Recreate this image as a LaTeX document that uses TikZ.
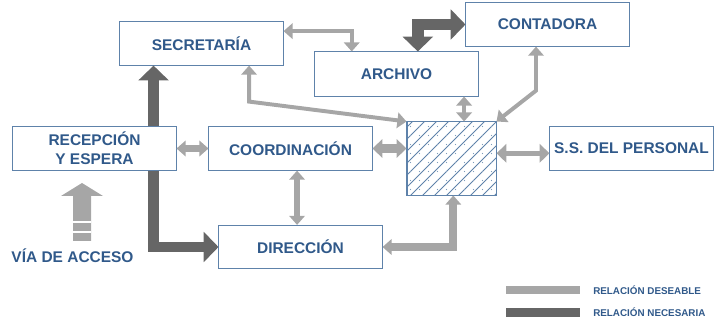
\documentclass[tikz,border=0pt]{standalone}
\usepackage{fontspec}
\setmainfont{Liberation Sans}
\usetikzlibrary{positioning,arrows.meta,calc}
\definecolor{planText}{HTML}{30598A}
\definecolor{planLine}{HTML}{5E82AA}
\definecolor{relLight}{HTML}{A6A6A6}
\definecolor{relDark}{HTML}{666666}

\tikzset{
  room/.style={draw=planLine, line width=0.7pt, fill=white, inner sep=0pt,
    minimum width=4.075cm, minimum height=1.08cm, align=center,
    font=\bfseries\fontsize{11}{13.5}\selectfont, text=planText},
  deseable/.style={draw=relLight, line width=2.8pt,
    >={Triangle[length=6.5pt,width=11pt]}, <->},
  necesaria/.style={draw=relDark, line width=7.5pt,
    >={Triangle[length=10.5pt,width=21pt]}, ->},
  leyenda/.style={anchor=west, inner sep=0pt, text=planText,
    font=\bfseries\fontsize{7}{8}\selectfont}
}

\begin{document}
\begin{tikzpicture}[x=0.025cm, y=-0.025cm]
  \useasboundingbox (0,0) rectangle (722,320);

  % recintos
  \node[room] (secre) at (201.5,43.5) {SECRETARÍA};
  \node[room, minimum height=1.1cm] (archivo) at (396.5,74) {ARCHIVO};
  \node[room] (conta) at (547.5,24.5) {CONTADORA};
  \node[room] (recep) at (94.5,148.5) {RECEPCIÓN\\Y ESPERA};
  \node[room] (coord) at (290.5,148.5) {COORDINACIÓN};
  \node[room] (ssper) at (631.5,148.5) {S.S. DEL PERSONAL};
  \node[room] (direc) at (300.5,247) {DIRECCIÓN};
  \node[draw=planLine, line width=0.7pt, inner sep=0pt,
    minimum width=2.225cm, minimum height=1.825cm] (area) at (451.5,158.5) {};

  % rayado del area
  \begin{scope}
    \clip (area.south west) rectangle (area.north east);
    \foreach \k in {0,...,14}
      \draw[planLine, line width=0.6pt] ($(area.south west)+(\k*12-80,0)$) -- ++(100,-100);
    \foreach \i in {0,...,9}
      \foreach \j in {0,...,7}
        \fill[planLine!80] ($(area.north west)+(4+\i*9,5+\j*9)$) circle (0.4pt);
  \end{scope}
  \draw[planLine, line width=0.7pt] (area.south west) rectangle (area.north east);

  % relaciones deseables
  \coordinate (sa) at ($(secre.north east)!0.22!(secre.south east)$);
  \coordinate (at) at ($(archivo.north west)!0.227!(archivo.north east)$);
  \draw[deseable] (sa) -| (at);
  \coordinate (sb) at ($(secre.south west)!0.79!(secre.south east)$);
  \draw[deseable] (area.north west) -- ($(sb)+(0,36)$) -- (sb);
  \coordinate (an) at ($(area.north west)!0.64!(area.north east)$);
  \draw[deseable] (archivo.south -| an) -- (an);
  \coordinate (cb) at ($(conta.south west)!0.43!(conta.south east)$);
  \draw[deseable] (cb) -- ($(cb)+(0,44)$) -- (area.north east);
  \draw[deseable, line width=4.5pt] (recep.east) -- (coord.west);
  \draw[deseable, line width=6pt, >={Triangle[length=7pt,width=13pt]}]
    (coord.east) -- (coord.east -| area.west);
  \draw[deseable, line width=3.8pt, >={Triangle[length=7pt,width=13pt]}]
    ([yshift=-0.12cm]area.east |- ssper.west) -- ([yshift=-0.12cm]ssper.west);
  \coordinate (ck) at ($(coord.south west)!0.54!(coord.south east)$);
  \draw[deseable, line width=4pt] (ck) -- (ck |- direc.north);
  \coordinate (ab) at ($(area.south west)!0.52!(area.south east)$);
  \draw[deseable, line width=5.5pt] (direc.east) -| (ab);

  % relaciones necesarias
  \coordinate (ak) at ($(archivo.north west)!0.63!(archivo.north east)$);
  \draw[necesaria, <->, line width=8.5pt] (conta.west) -| (ak);
  \coordinate (rk) at ($(recep.north west)!0.86!(recep.north east)$);
  \draw[necesaria] (rk) -- (rk |- secre.south);
  \draw[necesaria] (recep.south -| rk) |- (direc.west);

  % via de acceso
  \node[inner sep=0pt, text=planText, font=\bfseries\fontsize{11}{13}\selectfont]
    (acceso) at (72.5,256) {VÍA DE ACCESO};
  \fill[relLight] (82,183) -- (103,196) -- (91,196) -- (91,241)
    -- (73,241) -- (73,196) -- (61,196) -- cycle;
  \draw[white, line width=0.8pt] (73,222) -- (91,222);
  \draw[white, line width=0.8pt] (73,232) -- (91,232);

  % leyenda
  \fill[relLight] (506,286) rectangle (580,294);
  \node[leyenda] (ldes) at (593,290) {RELACIÓN DESEABLE};
  \fill[relDark] (506,308) rectangle (580,317);
  \node[leyenda] (lnec) at (593,312.5) {RELACIÓN NECESARIA};
\end{tikzpicture}
\end{document}
